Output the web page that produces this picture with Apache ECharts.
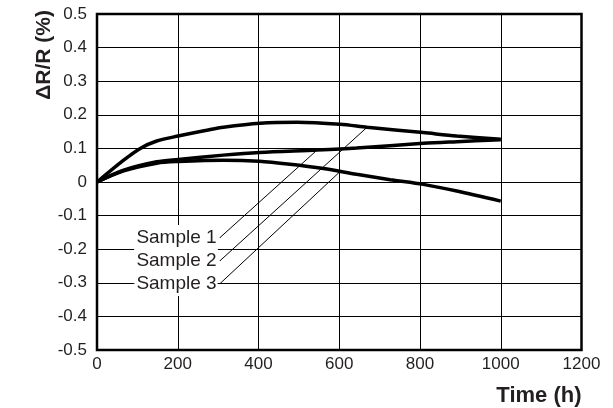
<!DOCTYPE html>
<html>
<head>
<meta charset="utf-8">
<script src="https://cdn.jsdelivr.net/npm/echarts@6/dist/echarts.min.js"></script>
<style>
html,body{margin:0;padding:0;background:#fff;}
#c{width:613px;height:408px;}
</style>
</head>
<body>
<div id="c"></div>
<script>
// Data
var xTicks = [0, 200, 400, 600, 800, 1000, 1200];
var yTicks = [-0.5, -0.4, -0.3, -0.2, -0.1, 0, 0.1, 0.2, 0.3, 0.4, 0.5];

var sample1 = [[0,0],[66,0.035],[148,0.060],[201,0.067],[313,0.080],[402,0.088],[545,0.095],[643,0.101],[808,0.115],[891,0.120],[1000,0.126]];
var sample2 = [[0,0],[66,0.065],[107,0.100],[148,0.122],[201,0.137],[272,0.154],[313,0.163],[404,0.175],[496,0.178],[602,0.172],[669,0.163],[808,0.147],[891,0.137],[1000,0.127]];
var sample3 = [[0,0],[66,0.033],[148,0.056],[201,0.061],[313,0.065],[402,0.062],[478,0.053],[561,0.040],[643,0.023],[726,0.007],[808,-0.007],[891,-0.027],[1000,-0.057]];

var seriesNames = ['Sample 1', 'Sample 2', 'Sample 3'];
// leader lines: label anchor -> point on curve
var leader1 = [[305,-0.165],[545,0.095]];
var leader2 = [[305,-0.234],[669,0.163]];
var leader3 = [[305,-0.302],[602,0.031]];

var textColor = '#231f20';
var curves = [sample1, sample2, sample3];
var leaders = [leader1, leader2, leader3];

var series = [];
leaders.forEach(function(l, i){
  series.push({
    type: 'line',
    data: l.map(function(p, j){
      var d = {value: p};
      if (j === 0) {
        d.label = {
          show: true, position: 'left', distance: 2,
          formatter: seriesNames[i],
          fontSize: 19, color: textColor,
          fontFamily: 'Liberation Sans, Arial, sans-serif',
          backgroundColor: '#fff', padding: [3, 1, 3, 2]
        };
      }
      return d;
    }),
    symbol: 'circle', symbolSize: 1, showSymbol: true,
    itemStyle: {color: '#000'},
    lineStyle: {color: '#000', width: 1},
    silent: true, z: 3,
    animation: false
  });
});
curves.forEach(function(c, i){
  series.push({
    name: seriesNames[i],
    type: 'line',
    data: c,
    smooth: 0.3,
    symbol: 'none',
    lineStyle: {color: '#000', width: 3.5},
    z: 4,
    animation: false
  });
});

var chart = echarts.init(document.getElementById('c'));
chart.setOption({
  animation: false,
  backgroundColor: '#fff',
  textStyle: {fontFamily: 'Liberation Sans, Arial, sans-serif'},
  grid: {left: 97, right: 31.5, top: 14, bottom: 58, show: true, borderColor: '#000', borderWidth: 2.5, backgroundColor: 'transparent'},
  xAxis: {
    type: 'value', min: xTicks[0], max: xTicks[xTicks.length-1], interval: 200,
    name: 'Time (h)', nameLocation: 'end', nameGap: 0,
    nameTextStyle: {fontSize: 22, fontWeight: 'bold', color: textColor, align: 'right', verticalAlign: 'top', padding: [35, 0, 0, 0]},
    axisLine: {show: false, onZero: false},
    axisTick: {show: false},
    axisLabel: {fontSize: 17, color: textColor, margin: 6, formatter: function(v){ return String(v); }},
    splitLine: {show: true, lineStyle: {color: '#000', width: 1}}
  },
  yAxis: {
    type: 'value', min: yTicks[0], max: yTicks[yTicks.length-1], interval: 0.1,
    name: 'ΔR/R (%)', nameLocation: 'end', nameGap: 4, nameRotate: 90,
    nameTextStyle: {fontSize: 21, fontWeight: 'bold', color: textColor, align: 'right', verticalAlign: 'bottom', padding: [0, 0, 42, 0]},
    axisLine: {show: false, onZero: false},
    axisTick: {show: false},
    axisLabel: {fontSize: 17, color: textColor, margin: 10, formatter: function(v){ return (Math.round(v*10)/10).toString(); }},
    splitLine: {show: true, lineStyle: {color: '#000', width: 1}}
  },
  series: series
});
</script>
</body>
</html>
